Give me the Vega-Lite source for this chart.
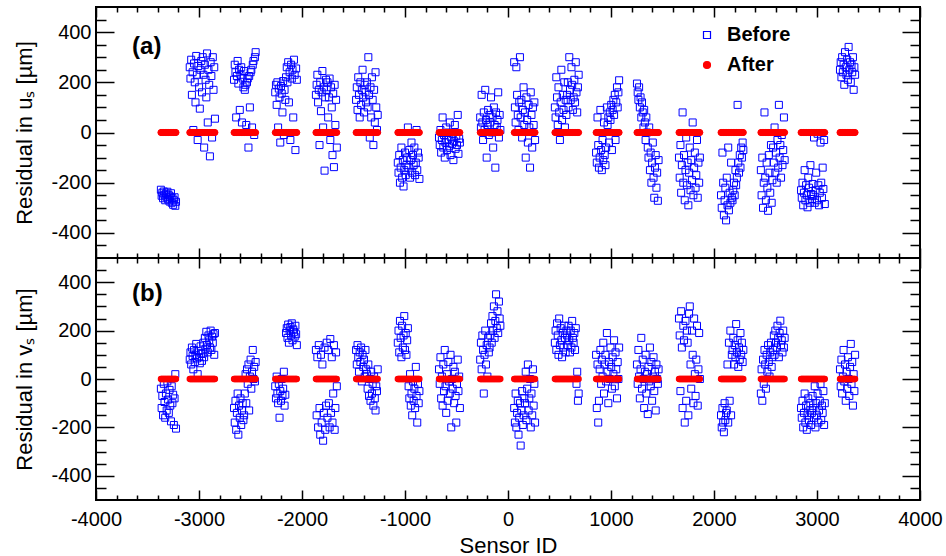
{
"$schema":"https://vega.github.io/schema/vega-lite/v6.json",
"padding":{"left":12,"top":5,"right":2,"bottom":0},
"spacing":0,
"bounds":"flush",
"config":{"font":"Liberation Sans","view":{"stroke":"black","strokeWidth":2},
"axis":{"domain":false,"grid":false,"labelFont":"Liberation Sans","labelFontSize":20,"labelColor":"black","titleFont":"Liberation Sans","titleFontSize":22,"titleFontWeight":"normal","titleColor":"black","tickColor":"black","tickWidth":1.5,"labelOverlap":false,"labelFlush":false,"zindex":1}},
"datasets":{"s":[
{"id":-3370,"u":-228,"v":-40,"ua":0,"va":0},{"id":-3363,"u":-252,"v":-120,"ua":0,"va":0},{"id":-3356,"u":-240,"v":-70,"ua":0,"va":0},{"id":-3349,"u":-262,"v":-150,"ua":0,"va":0},{"id":-3342,"u":-235,"v":-20,"ua":0,"va":0},{"id":-3335,"u":-248,"v":-95,"ua":0,"va":0},{"id":-3328,"u":-270,"v":-160,"ua":0,"va":0},{"id":-3321,"u":-244,"v":-60,"ua":0,"va":0},{"id":-3314,"u":-258,"v":-130,"ua":0,"va":0},{"id":-3307,"u":-236,"v":-10,"ua":0,"va":0},{"id":-3300,"u":-266,"v":-85,"ua":0,"va":0},{"id":-3293,"u":-250,"v":-140,"ua":0,"va":0},{"id":-3286,"u":-275,"v":-45,"ua":0,"va":0},{"id":-3279,"u":-255,"v":-110,"ua":0,"va":0},{"id":-3272,"u":-242,"v":-175,"ua":0,"va":0},{"id":-3265,"u":-280,"v":-30,"ua":0,"va":0},{"id":-3258,"u":-262,"v":-100,"ua":0,"va":0},{"id":-3251,"u":-288,"v":-65,"ua":0,"va":0},{"id":-3244,"u":-270,"v":-190,"ua":0,"va":0},{"id":-3237,"u":-258,"v":-80,"ua":0,"va":0},{"id":-3230,"u":-292,"v":20,"ua":0,"va":0},{"id":-3223,"u":-276,"v":-205,"ua":0,"va":0},
{"id":-3090,"u":260,"v":80,"ua":0,"va":0},{"id":-3083,"u":215,"v":110,"ua":0,"va":0},{"id":-3076,"u":290,"v":60,"ua":0,"va":0},{"id":-3069,"u":150,"v":130,"ua":0,"va":0},{"id":-3062,"u":240,"v":95,"ua":0,"va":0},{"id":-3055,"u":10,"v":40,"ua":0,"va":0},{"id":-3048,"u":275,"v":120,"ua":0,"va":0},{"id":-3041,"u":200,"v":70,"ua":0,"va":0},{"id":-3034,"u":120,"v":100,"ua":0,"va":0},{"id":-3027,"u":305,"v":145,"ua":0,"va":0},{"id":-3020,"u":230,"v":85,"ua":0,"va":0},{"id":-3013,"u":-30,"v":20,"ua":0,"va":0},{"id":-3006,"u":265,"v":115,"ua":0,"va":0},{"id":-2999,"u":180,"v":90,"ua":0,"va":0},{"id":-2992,"u":95,"v":65,"ua":0,"va":0},{"id":-2985,"u":250,"v":135,"ua":0,"va":0},{"id":-2978,"u":285,"v":105,"ua":0,"va":0},{"id":-2971,"u":160,"v":75,"ua":0,"va":0},
{"id":-2964,"u":300,"v":105,"ua":0,"va":0},{"id":-2957,"u":230,"v":150,"ua":0,"va":0},{"id":-2950,"u":-60,"v":90,"ua":0,"va":0},{"id":-2943,"u":270,"v":170,"ua":0,"va":0},{"id":-2936,"u":210,"v":125,"ua":0,"va":0},{"id":-2929,"u":140,"v":195,"ua":0,"va":0},{"id":-2922,"u":315,"v":140,"ua":0,"va":0},{"id":-2915,"u":40,"v":110,"ua":0,"va":0},{"id":-2908,"u":250,"v":180,"ua":0,"va":0},{"id":-2901,"u":190,"v":160,"ua":0,"va":0},{"id":-2894,"u":-95,"v":130,"ua":0,"va":0},{"id":-2887,"u":280,"v":200,"ua":0,"va":0},{"id":-2880,"u":225,"v":120,"ua":0,"va":0},{"id":-2873,"u":-20,"v":175,"ua":0,"va":0},{"id":-2866,"u":300,"v":150,"ua":0,"va":0},{"id":-2859,"u":170,"v":185,"ua":0,"va":0},{"id":-2852,"u":260,"v":100,"ua":0,"va":0},{"id":-2845,"u":55,"v":190,"ua":0,"va":0},
{"id":-2660,"u":210,"v":-120,"ua":0,"va":0},{"id":-2653,"u":270,"v":-180,"ua":0,"va":0},{"id":-2646,"u":240,"v":-90,"ua":0,"va":0},{"id":-2639,"u":60,"v":-210,"ua":0,"va":0},{"id":-2632,"u":225,"v":-140,"ua":0,"va":0},{"id":-2625,"u":285,"v":-60,"ua":0,"va":0},{"id":-2618,"u":195,"v":-230,"ua":0,"va":0},{"id":-2611,"u":250,"v":-110,"ua":0,"va":0},{"id":-2604,"u":90,"v":-160,"ua":0,"va":0},{"id":-2597,"u":230,"v":-80,"ua":0,"va":0},{"id":-2590,"u":260,"v":-190,"ua":0,"va":0},{"id":-2583,"u":40,"v":-130,"ua":0,"va":0},{"id":-2576,"u":215,"v":-100,"ua":0,"va":0},{"id":-2569,"u":180,"v":-170,"ua":0,"va":0},{"id":-2562,"u":245,"v":-150,"ua":0,"va":0},
{"id":-2555,"u":170,"v":-60,"ua":0,"va":0},{"id":-2548,"u":190,"v":20,"ua":0,"va":0},{"id":-2541,"u":30,"v":-100,"ua":0,"va":0},{"id":-2534,"u":200,"v":40,"ua":0,"va":0},{"id":-2527,"u":215,"v":-20,"ua":0,"va":0},{"id":-2520,"u":-60,"v":60,"ua":0,"va":0},{"id":-2513,"u":225,"v":-130,"ua":0,"va":0},{"id":-2506,"u":100,"v":10,"ua":0,"va":0},{"id":-2499,"u":240,"v":80,"ua":0,"va":0},{"id":-2492,"u":250,"v":-40,"ua":0,"va":0},{"id":-2485,"u":20,"v":30,"ua":0,"va":0},{"id":-2478,"u":270,"v":120,"ua":0,"va":0},{"id":-2471,"u":285,"v":0,"ua":0,"va":0},{"id":-2464,"u":-10,"v":50,"ua":0,"va":0},{"id":-2457,"u":300,"v":-10,"ua":0,"va":0},{"id":-2450,"u":320,"v":70,"ua":0,"va":0},
{"id":-2260,"u":160,"v":-30,"ua":0,"va":0},{"id":-2253,"u":190,"v":-80,"ua":0,"va":0},{"id":-2246,"u":110,"v":10,"ua":0,"va":0},{"id":-2239,"u":200,"v":-60,"ua":0,"va":0},{"id":-2232,"u":20,"v":-100,"ua":0,"va":0},{"id":-2225,"u":175,"v":-20,"ua":0,"va":0},{"id":-2218,"u":140,"v":-160,"ua":0,"va":0},{"id":-2211,"u":-40,"v":-50,"ua":0,"va":0},{"id":-2204,"u":185,"v":-90,"ua":0,"va":0},{"id":-2197,"u":155,"v":0,"ua":0,"va":0},{"id":-2190,"u":80,"v":-70,"ua":0,"va":0},{"id":-2183,"u":205,"v":-40,"ua":0,"va":0},{"id":-2176,"u":-10,"v":30,"ua":0,"va":0},{"id":-2169,"u":170,"v":-110,"ua":0,"va":0},{"id":-2162,"u":130,"v":-65,"ua":0,"va":0},
{"id":-2155,"u":220,"v":190,"ua":0,"va":0},{"id":-2148,"u":260,"v":210,"ua":0,"va":0},{"id":-2141,"u":200,"v":170,"ua":0,"va":0},{"id":-2134,"u":280,"v":225,"ua":0,"va":0},{"id":-2127,"u":120,"v":150,"ua":0,"va":0},{"id":-2120,"u":240,"v":200,"ua":0,"va":0},{"id":-2113,"u":-30,"v":215,"ua":0,"va":0},{"id":-2106,"u":270,"v":180,"ua":0,"va":0},{"id":-2099,"u":215,"v":230,"ua":0,"va":0},{"id":-2092,"u":250,"v":160,"ua":0,"va":0},{"id":-2085,"u":60,"v":205,"ua":0,"va":0},{"id":-2078,"u":290,"v":195,"ua":0,"va":0},{"id":-2071,"u":230,"v":175,"ua":0,"va":0},{"id":-2064,"u":-70,"v":220,"ua":0,"va":0},{"id":-2057,"u":255,"v":185,"ua":0,"va":0},{"id":-2050,"u":210,"v":140,"ua":0,"va":0},
{"id":-1865,"u":150,"v":120,"ua":0,"va":0},{"id":-1858,"u":190,"v":-150,"ua":0,"va":0},{"id":-1851,"u":230,"v":90,"ua":0,"va":0},{"id":-1844,"u":120,"v":-200,"ua":0,"va":0},{"id":-1837,"u":170,"v":140,"ua":0,"va":0},{"id":-1830,"u":-50,"v":-120,"ua":0,"va":0},{"id":-1823,"u":200,"v":-230,"ua":0,"va":0},{"id":-1816,"u":85,"v":100,"ua":0,"va":0},{"id":-1809,"u":160,"v":-180,"ua":0,"va":0},{"id":-1802,"u":245,"v":60,"ua":0,"va":0},{"id":-1795,"u":20,"v":-255,"ua":0,"va":0},{"id":-1788,"u":180,"v":-140,"ua":0,"va":0},{"id":-1781,"u":-152,"v":130,"ua":0,"va":0},{"id":-1774,"u":140,"v":-210,"ua":0,"va":0},{"id":-1767,"u":210,"v":-110,"ua":0,"va":0},
{"id":-1760,"u":170,"v":150,"ua":0,"va":0},{"id":-1753,"u":200,"v":-160,"ua":0,"va":0},{"id":-1746,"u":60,"v":120,"ua":0,"va":0},{"id":-1739,"u":140,"v":-100,"ua":0,"va":0},{"id":-1732,"u":215,"v":-200,"ua":0,"va":0},{"id":-1725,"u":-30,"v":165,"ua":0,"va":0},{"id":-1718,"u":180,"v":-140,"ua":0,"va":0},{"id":-1711,"u":100,"v":90,"ua":0,"va":0},{"id":-1704,"u":-90,"v":-180,"ua":0,"va":0},{"id":-1697,"u":155,"v":-60,"ua":0,"va":0},{"id":-1690,"u":-138,"v":140,"ua":0,"va":0},{"id":-1683,"u":190,"v":-210,"ua":0,"va":0},{"id":-1676,"u":30,"v":-120,"ua":0,"va":0},{"id":-1669,"u":130,"v":110,"ua":0,"va":0},{"id":-1662,"u":-60,"v":-30,"ua":0,"va":0},
{"id":-1475,"u":130,"v":120,"ua":0,"va":0},{"id":-1468,"u":180,"v":60,"ua":0,"va":0},{"id":-1461,"u":90,"v":140,"ua":0,"va":0},{"id":-1454,"u":220,"v":90,"ua":0,"va":0},{"id":-1447,"u":150,"v":30,"ua":0,"va":0},{"id":-1440,"u":60,"v":110,"ua":0,"va":0},{"id":-1433,"u":200,"v":70,"ua":0,"va":0},{"id":-1426,"u":110,"v":130,"ua":0,"va":0},{"id":-1419,"u":170,"v":-10,"ua":0,"va":0},{"id":-1412,"u":250,"v":100,"ua":0,"va":0},{"id":-1405,"u":140,"v":50,"ua":0,"va":0},{"id":-1398,"u":80,"v":80,"ua":0,"va":0},{"id":-1391,"u":190,"v":10,"ua":0,"va":0},{"id":-1384,"u":160,"v":120,"ua":0,"va":0},{"id":-1377,"u":120,"v":40,"ua":0,"va":0},
{"id":-1370,"u":200,"v":20,"ua":0,"va":0},{"id":-1363,"u":100,"v":-40,"ua":0,"va":0},{"id":-1356,"u":300,"v":60,"ua":0,"va":0},{"id":-1349,"u":150,"v":-70,"ua":0,"va":0},{"id":-1342,"u":-20,"v":0,"ua":0,"va":0},{"id":-1335,"u":180,"v":-90,"ua":0,"va":0},{"id":-1328,"u":60,"v":30,"ua":0,"va":0},{"id":-1321,"u":220,"v":-60,"ua":0,"va":0},{"id":-1314,"u":130,"v":-20,"ua":0,"va":0},{"id":-1307,"u":-50,"v":-110,"ua":0,"va":0},{"id":-1300,"u":170,"v":10,"ua":0,"va":0},{"id":-1293,"u":40,"v":-80,"ua":0,"va":0},{"id":-1286,"u":240,"v":-130,"ua":0,"va":0},{"id":-1279,"u":100,"v":-30,"ua":0,"va":0},{"id":-1272,"u":10,"v":-50,"ua":0,"va":0},{"id":-1265,"u":70,"v":40,"ua":0,"va":0},
{"id":-1070,"u":-120,"v":150,"ua":0,"va":0},{"id":-1063,"u":-160,"v":200,"ua":0,"va":0},{"id":-1056,"u":-90,"v":110,"ua":0,"va":0},{"id":-1049,"u":-200,"v":240,"ua":0,"va":0},{"id":-1042,"u":-140,"v":170,"ua":0,"va":0},{"id":-1035,"u":-60,"v":90,"ua":0,"va":0},{"id":-1028,"u":-180,"v":220,"ua":0,"va":0},{"id":-1021,"u":-110,"v":130,"ua":0,"va":0},{"id":-1014,"u":-215,"v":180,"ua":0,"va":0},{"id":-1007,"u":-150,"v":260,"ua":0,"va":0},{"id":-1000,"u":-80,"v":120,"ua":0,"va":0},{"id":-993,"u":-170,"v":190,"ua":0,"va":0},{"id":-986,"u":-130,"v":100,"ua":0,"va":0},{"id":-979,"u":-100,"v":160,"ua":0,"va":0},{"id":-972,"u":20,"v":210,"ua":0,"va":0},
{"id":-965,"u":-140,"v":-30,"ua":0,"va":0},{"id":-958,"u":-70,"v":-80,"ua":0,"va":0},{"id":-951,"u":-180,"v":20,"ua":0,"va":0},{"id":-944,"u":-110,"v":-110,"ua":0,"va":0},{"id":-937,"u":-40,"v":-60,"ua":0,"va":0},{"id":-930,"u":-160,"v":-150,"ua":0,"va":0},{"id":-923,"u":-90,"v":-10,"ua":0,"va":0},{"id":-916,"u":-130,"v":-90,"ua":0,"va":0},{"id":-909,"u":-60,"v":-40,"ua":0,"va":0},{"id":-902,"u":-170,"v":-120,"ua":0,"va":0},{"id":-895,"u":-120,"v":50,"ua":0,"va":0},{"id":-888,"u":10,"v":-70,"ua":0,"va":0},{"id":-881,"u":-150,"v":-180,"ua":0,"va":0},{"id":-874,"u":-80,"v":-20,"ua":0,"va":0},{"id":-867,"u":-100,"v":-100,"ua":0,"va":0},{"id":-860,"u":-185,"v":-50,"ua":0,"va":0},
{"id":-670,"u":-20,"v":40,"ua":0,"va":0},{"id":-663,"u":-50,"v":-20,"ua":0,"va":0},{"id":-656,"u":10,"v":90,"ua":0,"va":0},{"id":-649,"u":-80,"v":-80,"ua":0,"va":0},{"id":-642,"u":-30,"v":10,"ua":0,"va":0},{"id":-635,"u":60,"v":-110,"ua":0,"va":0},{"id":-628,"u":-60,"v":60,"ua":0,"va":0},{"id":-621,"u":-10,"v":-50,"ua":0,"va":0},{"id":-614,"u":-100,"v":120,"ua":0,"va":0},{"id":-607,"u":-40,"v":-30,"ua":0,"va":0},{"id":-600,"u":20,"v":-140,"ua":0,"va":0},{"id":-593,"u":-70,"v":20,"ua":0,"va":0},{"id":-586,"u":-30,"v":-90,"ua":0,"va":0},{"id":-579,"u":0,"v":70,"ua":0,"va":0},{"id":-572,"u":-55,"v":-10,"ua":0,"va":0},{"id":-565,"u":40,"v":-60,"ua":0,"va":0},{"id":-558,"u":-90,"v":100,"ua":0,"va":0},{"id":-551,"u":-20,"v":-200,"ua":0,"va":0},{"id":-544,"u":-45,"v":0,"ua":0,"va":0},{"id":-537,"u":-5,"v":-40,"ua":0,"va":0},{"id":-530,"u":-110,"v":50,"ua":0,"va":0},{"id":-523,"u":-35,"v":-100,"ua":0,"va":0},{"id":-516,"u":30,"v":30,"ua":0,"va":0},{"id":-509,"u":-65,"v":-70,"ua":0,"va":0},{"id":-502,"u":-15,"v":-180,"ua":0,"va":0},{"id":-495,"u":-50,"v":-20,"ua":0,"va":0},{"id":-488,"u":70,"v":80,"ua":0,"va":0},{"id":-481,"u":-85,"v":-50,"ua":0,"va":0},{"id":-474,"u":-25,"v":10,"ua":0,"va":0},{"id":-467,"u":-40,"v":-120,"ua":0,"va":0},
{"id":-270,"u":60,"v":80,"ua":0,"va":0},{"id":-263,"u":20,"v":150,"ua":0,"va":0},{"id":-256,"u":150,"v":40,"ua":0,"va":0},{"id":-249,"u":40,"v":180,"ua":0,"va":0},{"id":-242,"u":-30,"v":120,"ua":0,"va":0},{"id":-235,"u":80,"v":-60,"ua":0,"va":0},{"id":-228,"u":10,"v":100,"ua":0,"va":0},{"id":-221,"u":170,"v":200,"ua":0,"va":0},{"id":-214,"u":50,"v":60,"ua":0,"va":0},{"id":-207,"u":-100,"v":140,"ua":0,"va":0},{"id":-200,"u":30,"v":10,"ua":0,"va":0},{"id":-193,"u":90,"v":170,"ua":0,"va":0},{"id":-186,"u":-10,"v":110,"ua":0,"va":0},{"id":-179,"u":70,"v":130,"ua":0,"va":0},
{"id":-172,"u":40,"v":180,"ua":0,"va":0},{"id":-165,"u":140,"v":230,"ua":0,"va":0},{"id":-158,"u":0,"v":150,"ua":0,"va":0},{"id":-151,"u":60,"v":260,"ua":0,"va":0},{"id":-144,"u":-60,"v":200,"ua":0,"va":0},{"id":-137,"u":100,"v":300,"ua":0,"va":0},{"id":-130,"u":30,"v":170,"ua":0,"va":0},{"id":-123,"u":-140,"v":240,"ua":0,"va":0},{"id":-116,"u":80,"v":350,"ua":0,"va":0},{"id":-109,"u":20,"v":210,"ua":0,"va":0},{"id":-102,"u":50,"v":280,"ua":0,"va":0},{"id":-95,"u":160,"v":190,"ua":0,"va":0},{"id":-88,"u":-20,"v":320,"ua":0,"va":0},{"id":-81,"u":70,"v":250,"ua":0,"va":0},{"id":-74,"u":10,"v":220,"ua":0,"va":0},
{"id":60,"u":280,"v":-120,"ua":0,"va":0},{"id":67,"u":100,"v":-180,"ua":0,"va":0},{"id":74,"u":40,"v":-60,"ua":0,"va":0},{"id":81,"u":260,"v":-200,"ua":0,"va":0},{"id":88,"u":150,"v":-140,"ua":0,"va":0},{"id":95,"u":70,"v":-90,"ua":0,"va":0},{"id":102,"u":10,"v":-230,"ua":0,"va":0},{"id":109,"u":120,"v":-160,"ua":0,"va":0},{"id":116,"u":300,"v":-100,"ua":0,"va":0},{"id":123,"u":60,"v":-275,"ua":0,"va":0},{"id":130,"u":130,"v":-130,"ua":0,"va":0},{"id":137,"u":-20,"v":-50,"ua":0,"va":0},{"id":144,"u":90,"v":-190,"ua":0,"va":0},{"id":151,"u":180,"v":-150,"ua":0,"va":0},{"id":158,"u":30,"v":-80,"ua":0,"va":0},
{"id":165,"u":80,"v":-100,"ua":0,"va":0},{"id":172,"u":-100,"v":30,"ua":0,"va":0},{"id":179,"u":140,"v":-170,"ua":0,"va":0},{"id":186,"u":50,"v":-40,"ua":0,"va":0},{"id":193,"u":-40,"v":60,"ua":0,"va":0},{"id":200,"u":110,"v":-130,"ua":0,"va":0},{"id":207,"u":20,"v":-80,"ua":0,"va":0},{"id":214,"u":-140,"v":0,"ua":0,"va":0},{"id":221,"u":160,"v":-200,"ua":0,"va":0},{"id":228,"u":70,"v":-60,"ua":0,"va":0},{"id":235,"u":-60,"v":-150,"ua":0,"va":0},{"id":242,"u":100,"v":40,"ua":0,"va":0},{"id":249,"u":30,"v":-110,"ua":0,"va":0},{"id":256,"u":120,"v":-20,"ua":0,"va":0},{"id":263,"u":-30,"v":-180,"ua":0,"va":0},
{"id":455,"u":100,"v":150,"ua":0,"va":0},{"id":462,"u":60,"v":200,"ua":0,"va":0},{"id":469,"u":220,"v":120,"ua":0,"va":0},{"id":476,"u":140,"v":230,"ua":0,"va":0},{"id":483,"u":30,"v":180,"ua":0,"va":0},{"id":490,"u":180,"v":100,"ua":0,"va":0},{"id":497,"u":80,"v":250,"ua":0,"va":0},{"id":504,"u":-30,"v":140,"ua":0,"va":0},{"id":511,"u":120,"v":210,"ua":0,"va":0},{"id":518,"u":250,"v":160,"ua":0,"va":0},{"id":525,"u":50,"v":90,"ua":0,"va":0},{"id":532,"u":150,"v":190,"ua":0,"va":0},{"id":539,"u":90,"v":130,"ua":0,"va":0},{"id":546,"u":200,"v":220,"ua":0,"va":0},{"id":553,"u":20,"v":170,"ua":0,"va":0},{"id":560,"u":130,"v":110,"ua":0,"va":0},{"id":567,"u":70,"v":200,"ua":0,"va":0},
{"id":574,"u":150,"v":180,"ua":0,"va":0},{"id":581,"u":200,"v":140,"ua":0,"va":0},{"id":588,"u":100,"v":220,"ua":0,"va":0},{"id":595,"u":300,"v":160,"ua":0,"va":0},{"id":602,"u":170,"v":110,"ua":0,"va":0},{"id":609,"u":130,"v":200,"ua":0,"va":0},{"id":616,"u":260,"v":130,"ua":0,"va":0},{"id":623,"u":190,"v":240,"ua":0,"va":0},{"id":630,"u":90,"v":170,"ua":0,"va":0},{"id":637,"u":140,"v":150,"ua":0,"va":0},{"id":644,"u":210,"v":190,"ua":0,"va":0},{"id":651,"u":120,"v":120,"ua":0,"va":0},{"id":658,"u":280,"v":210,"ua":0,"va":0},{"id":665,"u":160,"v":-20,"ua":0,"va":0},{"id":672,"u":80,"v":30,"ua":0,"va":0},{"id":679,"u":180,"v":-90,"ua":0,"va":0},{"id":686,"u":230,"v":-60,"ua":0,"va":0},
{"id":855,"u":-80,"v":100,"ua":0,"va":0},{"id":862,"u":-120,"v":-120,"ua":0,"va":0},{"id":869,"u":60,"v":60,"ua":0,"va":0},{"id":876,"u":-50,"v":-180,"ua":0,"va":0},{"id":883,"u":-140,"v":-90,"ua":0,"va":0},{"id":890,"u":-100,"v":40,"ua":0,"va":0},{"id":897,"u":90,"v":120,"ua":0,"va":0},{"id":904,"u":-70,"v":-20,"ua":0,"va":0},{"id":911,"u":-150,"v":80,"ua":0,"va":0},{"id":918,"u":-30,"v":10,"ua":0,"va":0},{"id":925,"u":-110,"v":150,"ua":0,"va":0},{"id":932,"u":40,"v":-60,"ua":0,"va":0},{"id":939,"u":-90,"v":60,"ua":0,"va":0},{"id":946,"u":-130,"v":100,"ua":0,"va":0},{"id":953,"u":-60,"v":-10,"ua":0,"va":0},{"id":960,"u":100,"v":190,"ua":0,"va":0},
{"id":967,"u":30,"v":30,"ua":0,"va":0},{"id":974,"u":60,"v":-100,"ua":0,"va":0},{"id":981,"u":-40,"v":70,"ua":0,"va":0},{"id":988,"u":80,"v":0,"ua":0,"va":0},{"id":995,"u":50,"v":130,"ua":0,"va":0},{"id":1002,"u":110,"v":50,"ua":0,"va":0},{"id":1009,"u":-70,"v":-40,"ua":0,"va":0},{"id":1016,"u":90,"v":90,"ua":0,"va":0},{"id":1023,"u":130,"v":20,"ua":0,"va":0},{"id":1030,"u":70,"v":160,"ua":0,"va":0},{"id":1037,"u":150,"v":-30,"ua":0,"va":0},{"id":1044,"u":-30,"v":110,"ua":0,"va":0},{"id":1051,"u":120,"v":40,"ua":0,"va":0},{"id":1058,"u":180,"v":-80,"ua":0,"va":0},{"id":1065,"u":100,"v":70,"ua":0,"va":0},{"id":1072,"u":160,"v":0,"ua":0,"va":0},{"id":1079,"u":208,"v":130,"ua":0,"va":0},
{"id":1252,"u":195,"v":60,"ua":0,"va":0},{"id":1259,"u":160,"v":-20,"ua":0,"va":0},{"id":1266,"u":130,"v":120,"ua":0,"va":0},{"id":1273,"u":180,"v":10,"ua":0,"va":0},{"id":1280,"u":100,"v":-80,"ua":0,"va":0},{"id":1287,"u":140,"v":40,"ua":0,"va":0},{"id":1294,"u":60,"v":170,"ua":0,"va":0},{"id":1301,"u":120,"v":-40,"ua":0,"va":0},{"id":1308,"u":80,"v":80,"ua":0,"va":0},{"id":1315,"u":20,"v":0,"ua":0,"va":0},{"id":1322,"u":90,"v":-120,"ua":0,"va":0},{"id":1329,"u":40,"v":30,"ua":0,"va":0},{"id":1336,"u":-30,"v":100,"ua":0,"va":0},{"id":1343,"u":60,"v":-60,"ua":0,"va":0},{"id":1350,"u":0,"v":20,"ua":0,"va":0},
{"id":1357,"u":-60,"v":-145,"ua":0,"va":0},{"id":1364,"u":-100,"v":50,"ua":0,"va":0},{"id":1371,"u":20,"v":-10,"ua":0,"va":0},{"id":1378,"u":-150,"v":130,"ua":0,"va":0},{"id":1385,"u":-80,"v":-30,"ua":0,"va":0},{"id":1392,"u":-200,"v":70,"ua":0,"va":0},{"id":1399,"u":-120,"v":-90,"ua":0,"va":0},{"id":1406,"u":-40,"v":10,"ua":0,"va":0},{"id":1413,"u":-180,"v":90,"ua":0,"va":0},{"id":1420,"u":-260,"v":-50,"ua":0,"va":0},{"id":1427,"u":-140,"v":30,"ua":0,"va":0},{"id":1434,"u":-90,"v":-130,"ua":0,"va":0},{"id":1441,"u":-220,"v":60,"ua":0,"va":0},{"id":1448,"u":-160,"v":0,"ua":0,"va":0},{"id":1455,"u":-272,"v":-20,"ua":0,"va":0},{"id":1462,"u":-110,"v":40,"ua":0,"va":0},
{"id":1660,"u":-100,"v":250,"ua":0,"va":0},{"id":1667,"u":-180,"v":180,"ua":0,"va":0},{"id":1674,"u":-50,"v":-50,"ua":0,"va":0},{"id":1681,"u":-240,"v":280,"ua":0,"va":0},{"id":1688,"u":-130,"v":130,"ua":0,"va":0},{"id":1695,"u":80,"v":-120,"ua":0,"va":0},{"id":1702,"u":-200,"v":220,"ua":0,"va":0},{"id":1709,"u":-90,"v":160,"ua":0,"va":0},{"id":1716,"u":-270,"v":-180,"ua":0,"va":0},{"id":1723,"u":-150,"v":240,"ua":0,"va":0},{"id":1730,"u":-20,"v":-90,"ua":0,"va":0},{"id":1737,"u":-210,"v":200,"ua":0,"va":0},{"id":1744,"u":-120,"v":150,"ua":0,"va":0},{"id":1751,"u":-290,"v":-150,"ua":0,"va":0},{"id":1758,"u":-160,"v":270,"ua":0,"va":0},
{"id":1765,"u":-60,"v":300,"ua":0,"va":0},{"id":1772,"u":-230,"v":60,"ua":0,"va":0},{"id":1779,"u":-110,"v":-40,"ua":0,"va":0},{"id":1786,"u":-190,"v":200,"ua":0,"va":0},{"id":1793,"u":40,"v":100,"ua":0,"va":0},{"id":1800,"u":-250,"v":-100,"ua":0,"va":0},{"id":1807,"u":-140,"v":250,"ua":0,"va":0},{"id":1814,"u":-80,"v":20,"ua":0,"va":0},{"id":1821,"u":-220,"v":-70,"ua":0,"va":0},{"id":1828,"u":-170,"v":80,"ua":0,"va":0},{"id":1835,"u":-30,"v":220,"ua":0,"va":0},{"id":1842,"u":-260,"v":-110,"ua":0,"va":0},{"id":1849,"u":-120,"v":40,"ua":0,"va":0},{"id":1856,"u":-200,"v":190,"ua":0,"va":0},{"id":1863,"u":-100,"v":0,"ua":0,"va":0},
{"id":2068,"u":-250,"v":-150,"ua":0,"va":0},{"id":2075,"u":-300,"v":-200,"ua":0,"va":0},{"id":2082,"u":-80,"v":-120,"ua":0,"va":0},{"id":2089,"u":-200,"v":-180,"ua":0,"va":0},{"id":2096,"u":-330,"v":-220,"ua":0,"va":0},{"id":2103,"u":-270,"v":-100,"ua":0,"va":0},{"id":2110,"u":-220,"v":-170,"ua":0,"va":0},{"id":2117,"u":-350,"v":-140,"ua":0,"va":0},{"id":2124,"u":-180,"v":-130,"ua":0,"va":0},{"id":2131,"u":-290,"v":60,"ua":0,"va":0},{"id":2138,"u":-60,"v":-180,"ua":0,"va":0},{"id":2145,"u":-310,"v":150,"ua":0,"va":0},{"id":2152,"u":-240,"v":-90,"ua":0,"va":0},{"id":2159,"u":-280,"v":200,"ua":0,"va":0},{"id":2166,"u":-120,"v":-150,"ua":0,"va":0},{"id":2173,"u":-260,"v":100,"ua":0,"va":0},
{"id":2180,"u":-270,"v":120,"ua":0,"va":0},{"id":2187,"u":-230,"v":170,"ua":0,"va":0},{"id":2194,"u":-200,"v":60,"ua":0,"va":0},{"id":2201,"u":-250,"v":140,"ua":0,"va":0},{"id":2208,"u":-150,"v":90,"ua":0,"va":0},{"id":2215,"u":-210,"v":227,"ua":0,"va":0},{"id":2222,"u":-180,"v":110,"ua":0,"va":0},{"id":2229,"u":110,"v":160,"ua":0,"va":0},{"id":2236,"u":-120,"v":50,"ua":0,"va":0},{"id":2243,"u":-160,"v":130,"ua":0,"va":0},{"id":2250,"u":-90,"v":80,"ua":0,"va":0},{"id":2257,"u":-140,"v":190,"ua":0,"va":0},{"id":2264,"u":-60,"v":100,"ua":0,"va":0},{"id":2271,"u":-100,"v":150,"ua":0,"va":0},{"id":2278,"u":-40,"v":70,"ua":0,"va":0},{"id":2285,"u":-70,"v":120,"ua":0,"va":0},
{"id":2455,"u":-150,"v":-60,"ua":0,"va":0},{"id":2462,"u":-250,"v":40,"ua":0,"va":0},{"id":2469,"u":-100,"v":-90,"ua":0,"va":0},{"id":2476,"u":-300,"v":80,"ua":0,"va":0},{"id":2483,"u":-200,"v":-20,"ua":0,"va":0},{"id":2490,"u":80,"v":120,"ua":0,"va":0},{"id":2497,"u":-180,"v":60,"ua":0,"va":0},{"id":2504,"u":-270,"v":-40,"ua":0,"va":0},{"id":2511,"u":-120,"v":100,"ua":0,"va":0},{"id":2518,"u":-220,"v":30,"ua":0,"va":0},{"id":2525,"u":-312,"v":140,"ua":0,"va":0},{"id":2532,"u":-90,"v":70,"ua":0,"va":0},{"id":2539,"u":-160,"v":10,"ua":0,"va":0},{"id":2546,"u":-240,"v":110,"ua":0,"va":0},{"id":2553,"u":-50,"v":150,"ua":0,"va":0},{"id":2560,"u":-280,"v":50,"ua":0,"va":0},{"id":2567,"u":-190,"v":90,"ua":0,"va":0},
{"id":2574,"u":-60,"v":120,"ua":0,"va":0},{"id":2581,"u":-120,"v":180,"ua":0,"va":0},{"id":2588,"u":20,"v":100,"ua":0,"va":0},{"id":2595,"u":-160,"v":200,"ua":0,"va":0},{"id":2602,"u":-80,"v":150,"ua":0,"va":0},{"id":2609,"u":-200,"v":130,"ua":0,"va":0},{"id":2616,"u":-30,"v":220,"ua":0,"va":0},{"id":2623,"u":-140,"v":170,"ua":0,"va":0},{"id":2630,"u":110,"v":90,"ua":0,"va":0},{"id":2637,"u":-100,"v":190,"ua":0,"va":0},{"id":2644,"u":-50,"v":241,"ua":0,"va":0},{"id":2651,"u":-180,"v":140,"ua":0,"va":0},{"id":2658,"u":-10,"v":160,"ua":0,"va":0},{"id":2665,"u":-130,"v":110,"ua":0,"va":0},{"id":2672,"u":-70,"v":200,"ua":0,"va":0},{"id":2679,"u":60,"v":130,"ua":0,"va":0},{"id":2686,"u":-110,"v":170,"ua":0,"va":0},
{"id":2845,"u":-230,"v":-120,"ua":0,"va":0},{"id":2852,"u":-260,"v":-160,"ua":0,"va":0},{"id":2859,"u":-200,"v":-90,"ua":0,"va":0},{"id":2866,"u":-290,"v":-200,"ua":0,"va":0},{"id":2873,"u":-240,"v":-140,"ua":0,"va":0},{"id":2880,"u":-150,"v":-60,"ua":0,"va":0},{"id":2887,"u":-270,"v":-180,"ua":0,"va":0},{"id":2894,"u":-210,"v":-110,"ua":0,"va":0},{"id":2901,"u":-250,"v":-210,"ua":0,"va":0},{"id":2908,"u":-298,"v":-150,"ua":0,"va":0},{"id":2915,"u":-180,"v":-80,"ua":0,"va":0},{"id":2922,"u":-220,"v":-170,"ua":0,"va":0},{"id":2929,"u":-280,"v":-130,"ua":0,"va":0},{"id":2936,"u":-130,"v":-100,"ua":0,"va":0},{"id":2943,"u":-245,"v":-190,"ua":0,"va":0},{"id":2950,"u":-265,"v":-140,"ua":0,"va":0},{"id":2957,"u":-205,"v":-70,"ua":0,"va":0},
{"id":2964,"u":-250,"v":-120,"ua":0,"va":0},{"id":2971,"u":-20,"v":-160,"ua":0,"va":0},{"id":2978,"u":-280,"v":-30,"ua":0,"va":0},{"id":2985,"u":-230,"v":-200,"ua":0,"va":0},{"id":2992,"u":-160,"v":-100,"ua":0,"va":0},{"id":2999,"u":-270,"v":-150,"ua":0,"va":0},{"id":3006,"u":-5,"v":-60,"ua":0,"va":0},{"id":3013,"u":-210,"v":-180,"ua":0,"va":0},{"id":3020,"u":-290,"v":-130,"ua":0,"va":0},{"id":3027,"u":-240,"v":-90,"ua":0,"va":0},{"id":3034,"u":-40,"v":-20,"ua":0,"va":0},{"id":3041,"u":-200,"v":-170,"ua":0,"va":0},{"id":3048,"u":-260,"v":-110,"ua":0,"va":0},{"id":3055,"u":-140,"v":-140,"ua":0,"va":0},{"id":3062,"u":-225,"v":-50,"ua":0,"va":0},{"id":3069,"u":-30,"v":-190,"ua":0,"va":0},{"id":3076,"u":-285,"v":-100,"ua":0,"va":0},
{"id":3223,"u":250,"v":40,"ua":0,"va":0},{"id":3230,"u":280,"v":-30,"ua":0,"va":0},{"id":3237,"u":220,"v":80,"ua":0,"va":0},{"id":3244,"u":300,"v":-60,"ua":0,"va":0},{"id":3251,"u":240,"v":10,"ua":0,"va":0},{"id":3258,"u":270,"v":120,"ua":0,"va":0},{"id":3265,"u":190,"v":-10,"ua":0,"va":0},{"id":3272,"u":320,"v":60,"ua":0,"va":0},{"id":3279,"u":260,"v":-90,"ua":0,"va":0},{"id":3286,"u":230,"v":30,"ua":0,"va":0},{"id":3293,"u":290,"v":-40,"ua":0,"va":0},{"id":3300,"u":210,"v":90,"ua":0,"va":0},{"id":3307,"u":341,"v":0,"ua":0,"va":0},{"id":3314,"u":250,"v":-70,"ua":0,"va":0},{"id":3321,"u":280,"v":50,"ua":0,"va":0},{"id":3328,"u":200,"v":145,"ua":0,"va":0},{"id":3335,"u":270,"v":-20,"ua":0,"va":0},{"id":3342,"u":240,"v":70,"ua":0,"va":0},{"id":3349,"u":300,"v":-110,"ua":0,"va":0},{"id":3356,"u":170,"v":20,"ua":0,"va":0},{"id":3363,"u":260,"v":-50,"ua":0,"va":0},{"id":3370,"u":230,"v":100,"ua":0,"va":0}
]},
"vconcat":[
{"width":824,"height":251,
"layer":[
{"data":{"name":"s"},"mark":{"type":"point","filled":true,"size":49,"strokeWidth":1,"opacity":1},
"encoding":{
"x":{"field":"id","type":"quantitative","scale":{"domain":[-4000,4000],"nice":false,"zero":false},
"axis":{"orient":"bottom","values":[-4000,-3800,-3600,-3400,-3200,-3000,-2800,-2600,-2400,-2200,-2000,-1800,-1600,-1400,-1200,-1000,-800,-600,-400,-200,0,200,400,600,800,1000,1200,1400,1600,1800,2000,2200,2400,2600,2800,3000,3200,3400,3600,3800,4000],"labels":false,"title":null,"tickSize":{"condition":{"test":"datum.value % 1000 === 0","value":-10},"value":-5}}},
"y":{"field":"u","type":"quantitative","scale":{"domain":[-500,500],"nice":false,"zero":false},
"axis":{"orient":"left","values":[-450,-400,-350,-300,-250,-200,-150,-100,-50,0,50,100,150,200,250,300,350,400,450],"labelExpr":"datum.value % 200 === 0 ? '' + datum.value : ''","title":"Residual in uₛ [µm]","titlePadding":14,"labelPadding":23,"tickSize":{"condition":{"test":"datum.value % 200 === 0","value":-18},"value":-10}}},
"shape":{"datum":"Before","type":"nominal","scale":{"domain":["Before","After"],"range":["square","circle"]},
"legend":{"orient":"none","legendX":601,"legendY":18,"title":null,"padding":0,"labelFont":"Liberation Sans","labelFontSize":20,"labelFontWeight":"bold","labelColor":"black","symbolSize":49,"symbolStrokeWidth":1.2,"symbolOpacity":1,"rowPadding":10,"labelOffset":10}},
"fill":{"datum":"Before","type":"nominal","scale":{"domain":["Before","After"],"range":["transparent","#ff0000"]}},
"stroke":{"datum":"Before","type":"nominal","scale":{"domain":["Before","After"],"range":["#0000ff","#ff0000"]}}
}},
{"data":{"name":"s"},"mark":{"type":"point","filled":true,"size":36,"strokeWidth":1,"opacity":1},
"encoding":{
"x":{"field":"id","type":"quantitative","scale":{"domain":[-4000,4000],"nice":false,"zero":false},
"axis":{"orient":"top","values":[-4000,-3800,-3600,-3400,-3200,-3000,-2800,-2600,-2400,-2200,-2000,-1800,-1600,-1400,-1200,-1000,-800,-600,-400,-200,0,200,400,600,800,1000,1200,1400,1600,1800,2000,2200,2400,2600,2800,3000,3200,3400,3600,3800,4000],"labels":false,"title":null,"tickSize":{"condition":{"test":"datum.value % 1000 === 0","value":-10},"value":-5}}},
"y":{"field":"ua","type":"quantitative","scale":{"domain":[-500,500],"nice":false,"zero":false},
"axis":{"orient":"right","values":[-450,-400,-350,-300,-250,-200,-150,-100,-50,0,50,100,150,200,250,300,350,400,450],"labels":false,"title":null,"tickSize":{"condition":{"test":"datum.value % 200 === 0","value":-18},"value":-10}}},
"shape":{"datum":"After","type":"nominal"},
"fill":{"datum":"After","type":"nominal"},
"stroke":{"datum":"After","type":"nominal"}
}},
{"data":{"values":[{"panel":"a"}]},
"mark":{"type":"text","text":"(a)","font":"Liberation Sans","fontSize":24,"fontWeight":"bold","align":"left","baseline":"middle","color":"black"},
"encoding":{"x":{"datum":-3650,"type":"quantitative","axis":null},"y":{"datum":340,"type":"quantitative","axis":null}}}
],
"resolve":{"axis":{"x":"independent","y":"independent"}}
},
{"width":824,"height":242,
"layer":[
{"data":{"name":"s"},"mark":{"type":"point","filled":false,"shape":"square","color":"#0000ff","size":49,"strokeWidth":1,"opacity":1},
"encoding":{
"x":{"field":"id","type":"quantitative","scale":{"domain":[-4000,4000],"nice":false,"zero":false},
"axis":{"orient":"bottom","values":[-4000,-3800,-3600,-3400,-3200,-3000,-2800,-2600,-2400,-2200,-2000,-1800,-1600,-1400,-1200,-1000,-800,-600,-400,-200,0,200,400,600,800,1000,1200,1400,1600,1800,2000,2200,2400,2600,2800,3000,3200,3400,3600,3800,4000],"labelExpr":"datum.value % 1000 === 0 ? '' + datum.value : ''","labelPadding":19,"title":"Sensor ID","titlePadding":1,"tickSize":{"condition":{"test":"datum.value % 1000 === 0","value":-10},"value":-5}}},
"y":{"field":"v","type":"quantitative","scale":{"domain":[-500,500],"nice":false,"zero":false},
"axis":{"orient":"left","values":[-450,-400,-350,-300,-250,-200,-150,-100,-50,0,50,100,150,200,250,300,350,400,450],"labelExpr":"datum.value % 200 === 0 ? '' + datum.value : ''","title":"Residual in vₛ [µm]","titlePadding":14,"labelPadding":23,"tickSize":{"condition":{"test":"datum.value % 200 === 0","value":-18},"value":-10}}}
}},
{"data":{"name":"s"},"mark":{"type":"point","filled":true,"shape":"circle","color":"#ff0000","size":40,"opacity":1},
"encoding":{
"x":{"field":"id","type":"quantitative","scale":{"domain":[-4000,4000],"nice":false,"zero":false},
"axis":{"orient":"top","values":[-4000,-3800,-3600,-3400,-3200,-3000,-2800,-2600,-2400,-2200,-2000,-1800,-1600,-1400,-1200,-1000,-800,-600,-400,-200,0,200,400,600,800,1000,1200,1400,1600,1800,2000,2200,2400,2600,2800,3000,3200,3400,3600,3800,4000],"labels":false,"title":null,"tickSize":{"condition":{"test":"datum.value % 1000 === 0","value":-10},"value":-5}}},
"y":{"field":"va","type":"quantitative","scale":{"domain":[-500,500],"nice":false,"zero":false},
"axis":{"orient":"right","values":[-450,-400,-350,-300,-250,-200,-150,-100,-50,0,50,100,150,200,250,300,350,400,450],"labels":false,"title":null,"tickSize":{"condition":{"test":"datum.value % 200 === 0","value":-18},"value":-10}}}
}},
{"data":{"values":[{"panel":"b"}]},
"mark":{"type":"text","text":"(b)","font":"Liberation Sans","fontSize":24,"fontWeight":"bold","align":"left","baseline":"middle","color":"black"},
"encoding":{"x":{"datum":-3650,"type":"quantitative","axis":null},"y":{"datum":350,"type":"quantitative","axis":null}}}
],
"resolve":{"axis":{"x":"independent","y":"independent"}}
}
]
}
